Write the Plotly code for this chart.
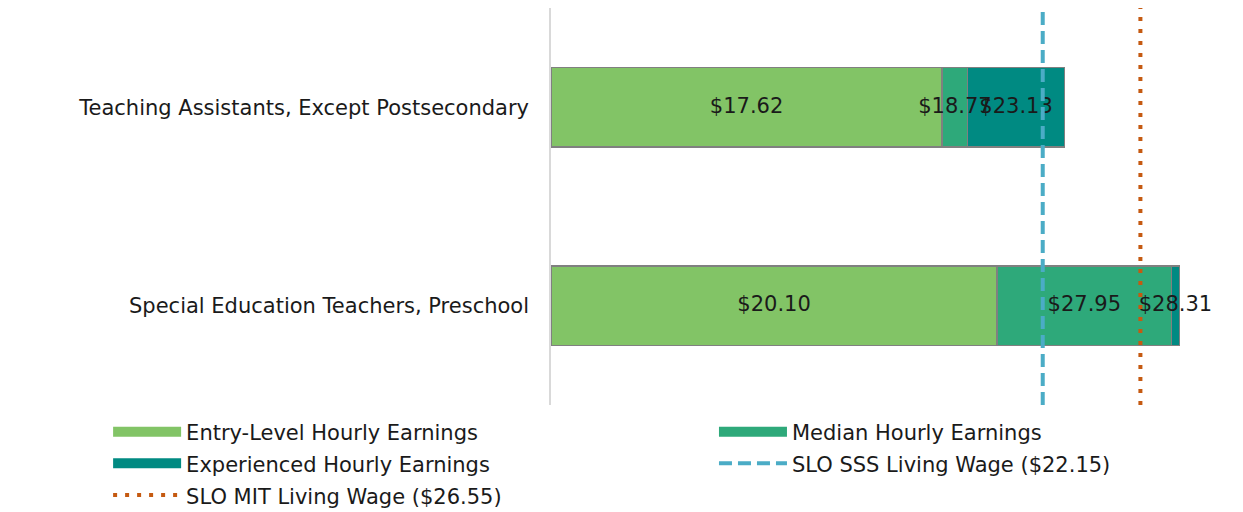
import plotly.graph_objects as go

categories = ["Teaching Assistants, Except Postsecondary", "Special Education Teachers, Preschool"]
entry = [17.62, 20.10]
median = [18.77, 27.95]
experienced = [23.13, 28.31]
sss_wage = 22.15
mit_wage = 26.55

names = ["Entry-Level Hourly Earnings", "Median Hourly Earnings", "Experienced Hourly Earnings"]
colors = ["#82C466", "#2EA97A", "#008A82"]
sss_name = "SLO SSS Living Wage ($22.15)"
mit_name = "SLO MIT Living Wage ($26.55)"

FONT = "DejaVu Sans"
FS = 21

median_inc = [m - e for m, e in zip(median, entry)]
exp_inc = [x - m for x, m in zip(experienced, median)]


def leg(name):
    return f'<span style="font-size:{FS}px">{name}</span>'


fig = go.Figure()
for vals, name, col in zip([entry, median_inc, exp_inc], names, colors):
    fig.add_trace(go.Bar(y=categories, x=vals, orientation="h", name=name,
                         marker=dict(color=col, line=dict(color="#808080", width=1.5)),
                         width=0.4, showlegend=False, hoverinfo="skip"))

# value labels
starts = [[0, 0], entry, median]
ends = [entry, median, experienced]
for s, e in zip(starts, ends):
    fig.add_trace(go.Scatter(y=categories, x=[(a + b) / 2 for a, b in zip(s, e)],
                             mode="text", text=[f"${v:.2f}" for v in e],
                             textfont=dict(family=FONT, size=FS, color="#1a1a1a"),
                             showlegend=False, hoverinfo="skip"))

# legend proxies for bars (column 1: entry, experienced; column 2: median)
legend_of = ["legend", "legend2", "legend"]
for i, (name, col) in enumerate(zip(names, colors)):
    fig.add_trace(go.Scatter(x=[None], y=[None], mode="lines", name=leg(name),
                             line=dict(color=col, width=14), legend=legend_of[i],
                             legendrank=i + 1))

# living wage lines
fig.add_trace(go.Scatter(x=[sss_wage, sss_wage], y=[0, 1], yaxis="y2", mode="lines",
                         line=dict(color="#4BACC6", width=4, dash="13px,6px"),
                         name=leg(sss_name), legend="legend2", legendrank=4))
fig.add_trace(go.Scatter(x=[mit_wage, mit_wage], y=[0, 1], yaxis="y2", mode="lines",
                         line=dict(color="#C55A11", width=4, dash="4px,8px"),
                         name=leg(mit_name), legend="legend", legendrank=5))

legend_common = dict(orientation="v", y=-0.015, yanchor="top", xanchor="left",
                     itemwidth=68, font=dict(family=FONT, size=22),
                     bgcolor="rgba(0,0,0,0)", traceorder="normal")

fig.update_layout(
    width=1243, height=512,
    margin=dict(l=543, r=34, t=0, b=115, autoexpand=False),
    paper_bgcolor="white", plot_bgcolor="white",
    font=dict(family=FONT, size=FS, color="#1a1a1a"),
    barmode="stack",
    showlegend=True,
    legend=dict(x=-0.665, **legend_common),
    legend2=dict(x=0.2447, **legend_common),
    xaxis=dict(range=[0, 30], visible=False, showgrid=False, zeroline=False),
    yaxis=dict(categoryorder="array", categoryarray=categories, range=[1.5, -0.5],
               showgrid=False, zeroline=False, showline=True, linecolor="#d9d9d9",
               linewidth=1.5, ticks="", ticklabelstandoff=16),
    yaxis2=dict(overlaying="y", range=[0, 1], visible=False),
)

fig.write_html("out.html")
